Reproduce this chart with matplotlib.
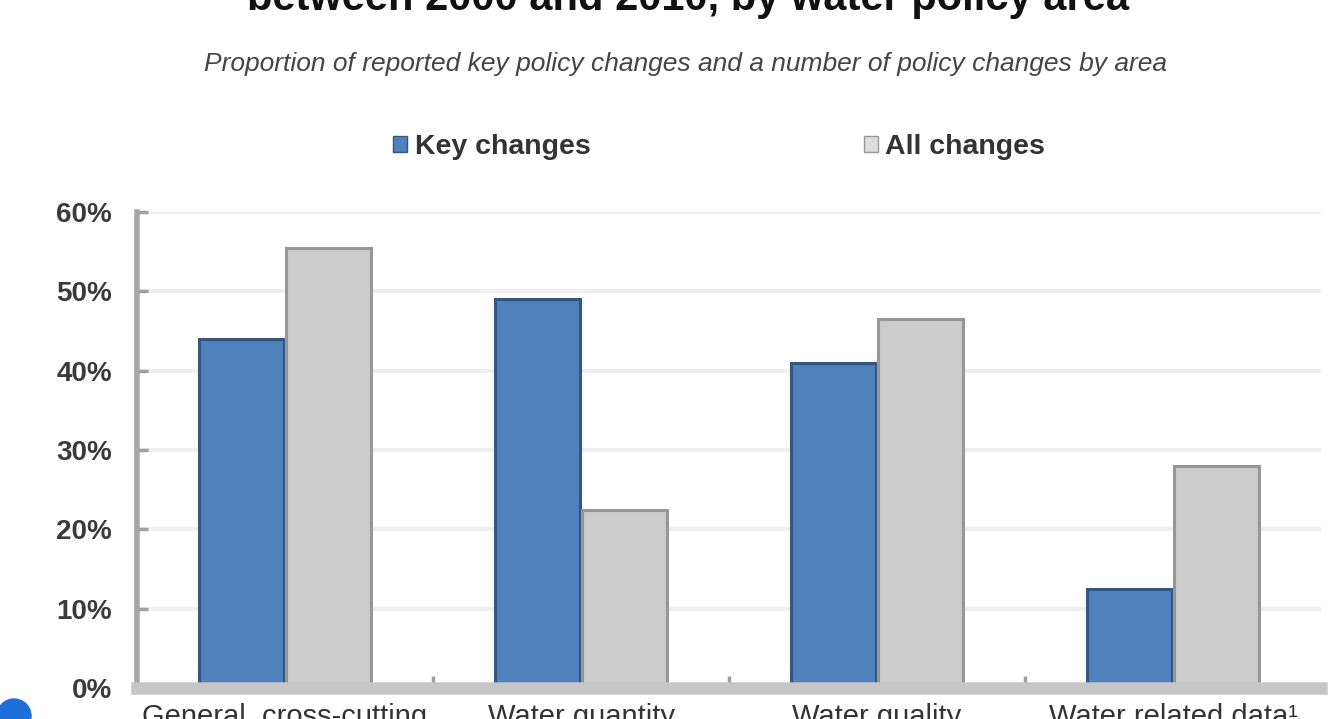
import matplotlib
matplotlib.use("Agg")
import matplotlib.pyplot as plt
import numpy as np
from matplotlib.patches import Circle, Patch

categories = ["General, cross-cutting", "Water quantity", "Water quality", "Water related data\u00b9"]
key_changes = [44, 49, 41, 12.5]
all_changes = [55.5, 22.5, 46.5, 28]
yticks = [0, 10, 20, 30, 40, 50, 60]

plt.rcParams['font.family'] = ['Liberation Sans', 'DejaVu Sans']

W, H = 1334, 719
fig = plt.figure(figsize=(W/100, H/100), dpi=100)
ax = fig.add_axes([137/W, (H-688)/H, (1321-137)/W, (688-212)/H])

x = np.arange(len(categories))
bw = 0.284
off = 0.147
ax.bar(x - off, key_changes, bw, color="#4F81BD", edgecolor="#34567F", linewidth=2.2, zorder=3, label="Key changes")
ax.bar(x + off, all_changes, bw, color="#CCCCCC", edgecolor="#969696", linewidth=2.2, zorder=3, label="All changes")

ax.set_xlim(-0.5, len(categories) - 0.5)
ax.set_ylim(0, 60)
ax.set_yticks(yticks)
ax.set_yticklabels([f"{v}%" for v in yticks], fontsize=20, fontweight='bold', color="#3A3A3A")
ax.yaxis.grid(True, color="#EFEFEF", linewidth=3, zorder=0)
ax.set_axisbelow(True)

ax.set_xticks(x)
ax.set_xticklabels(categories, fontsize=21, color="#333333")
ax.set_xticks(np.arange(0.5, len(categories) - 0.5, 1), minor=True)
ax.tick_params(axis='x', which='major', length=0, pad=11)
ax.tick_params(axis='x', which='minor', length=9, width=2.5, color="#A0A0A0", direction='in')
ax.tick_params(axis='y', length=8, width=2.5, color="#A0A0A0", direction='in', pad=18)

for s in ['top', 'right']:
    ax.spines[s].set_visible(False)
ax.spines['left'].set_color("#A6A6A6")
ax.spines['left'].set_linewidth(4)
ax.spines['bottom'].set_color("#C6C6C6")
ax.spines['bottom'].set_linewidth(9)
ax.spines['bottom'].set_zorder(4)

handles = [Patch(facecolor="#4F81BD", edgecolor="#34567F"),
           Patch(facecolor="#DDDDDD", edgecolor="#999999")]
leg = ax.legend(handles, ["Key changes", "All changes"], loc='center', bbox_to_anchor=(0.4916, 1.136),
                ncol=2, frameon=False, prop={'size': 20.5, 'weight': 'bold'}, handlelength=0.5, handleheight=0.5,
                handletextpad=0.25, columnspacing=9.6)
for t in leg.get_texts():
    t.set_color("#333333")

fig.text(688/W, 1 - 10/H, "between 2000 and 2010, by water policy area", ha='center', va='baseline',
         fontsize=30, fontweight='bold', color="#111111")
fig.text(686/W, 1 - 71/H, "Proportion of reported key policy changes and a number of policy changes by area",
         ha='center', va='baseline', fontsize=19, style='italic', color="#444444")

circ = Circle((14, 3), 17, transform=None, color="#1E6FD9", zorder=10)
fig.patches.append(circ)

fig.savefig("out.png", dpi=100)
